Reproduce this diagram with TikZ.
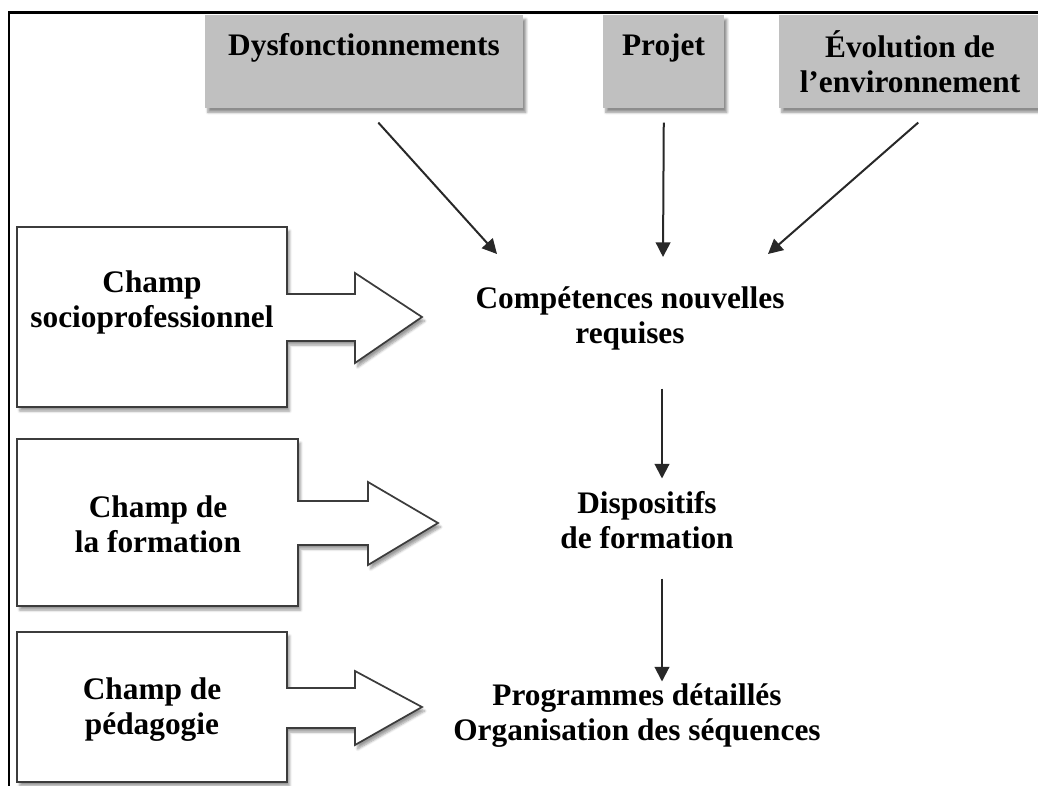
\documentclass[tikz,border=0pt]{standalone}
\usepackage{fontspec}
\setmainfont{Liberation Serif}
\usetikzlibrary{arrows.meta,calc,shadows.blur}
\definecolor{boxgray}{RGB}{192,192,192}
\definecolor{edgegray}{RGB}{60,60,60}
\definecolor{linegray}{RGB}{40,40,40}
\begin{document}
\begin{tikzpicture}[x=0.75pt,y=-0.75pt,
  lbl/.style={font={\bfseries\fontsize{23.5}{26.25}\selectfont}, align=center, inner sep=0pt, anchor=north},
  graybox/.style={fill=boxgray, draw=none, anchor=north west, minimum height=69.75pt, inner sep=0pt,
    blur shadow={shadow xshift=2pt, shadow yshift=-3pt, shadow blur steps=6, shadow opacity=45}},
  callout/.style={fill=white, draw=edgegray, line width=1.3pt, line join=miter,
    blur shadow={shadow xshift=2pt, shadow yshift=-3pt, shadow blur steps=6, shadow opacity=40}},
  arr/.style={draw=linegray, line width=1.5pt, -{Triangle[length=11pt,width=11pt]}},
  frameline/.style={draw=black, line width=1.9pt}
]
\useasboundingbox (0,0) rectangle (1038,785);
\clip (0,0) rectangle (1038,785);

% outer frame
\draw[frameline] (9,790) -- (9,12.5) -- (1045,12.5);

% top gray boxes
\node[graybox, minimum width=238.5pt] (dys) at (205,15) {};
\node[graybox, minimum width=90.75pt] (proj) at (603,15) {};
\node[graybox, minimum width=197.25pt] (evo) at (779,15) {};
\node[lbl] (dyst) at (364,30.5) {\strut Dysfonctionnements};
\node[lbl] (projt) at (663.5,30.5) {\strut Projet};
\node[lbl] (evot) at (910,30.5) {\strut Évolution de\\\strut l’environnement};

% left callouts
\draw[callout] (17,227) -- (287,227) -- (287,294) -- (355,294) -- (355,273) -- (422,317)
  -- (355,363) -- (355,341) -- (287,341) -- (287,407) -- (17,407) -- cycle;
\draw[callout] (17,439) -- (298,439) -- (298,501) -- (368,501) -- (368,482) -- (438,523)
  -- (368,565) -- (368,545) -- (298,545) -- (298,606) -- (17,606) -- cycle;
\draw[callout] (17,632) -- (287,632) -- (287,688) -- (355,688) -- (355,671) -- (422,707)
  -- (355,745) -- (355,728) -- (287,728) -- (287,782) -- (17,782) -- cycle;
\node[lbl] (ch1) at (152,267.5) {\strut Champ\\\strut socioprofessionnel};
\node[lbl] (ch2) at (158,492.5) {\strut Champ de\\\strut la formation};
\node[lbl] (ch3) at (152,674.5) {\strut Champ de\\\strut pédagogie};

% central column
\node[lbl] (comp) at (630,283.5) {\strut Compétences nouvelles\\\strut requises};
\node[lbl] (disp) at (647,488.5) {\strut Dispositifs\\\strut de formation};
\node[lbl] (prog) at (637,680.5) {\strut Programmes détaillés\\\strut Organisation des séquences};

% arrow end points
\coordinate (c1) at (497,254);
\coordinate (c2) at (663,257);
\coordinate (c3) at (768,254);

\draw[arr] ($(dys.south)+(14,14)$) -- (c1);
\draw[arr] ($(proj.south)+(0,14)$) -- (c2);
\draw[arr] ($(evo.south)+(7.5,14)$) -- (c3);
\draw[arr] ($(comp.south)+(32,34.5)$) -- ($(disp.north)+(15,-10)$);
\draw[arr] ($(disp.south)+(15,19.5)$) -- ($(prog.north)+(25,1)$);
\end{tikzpicture}
\end{document}
